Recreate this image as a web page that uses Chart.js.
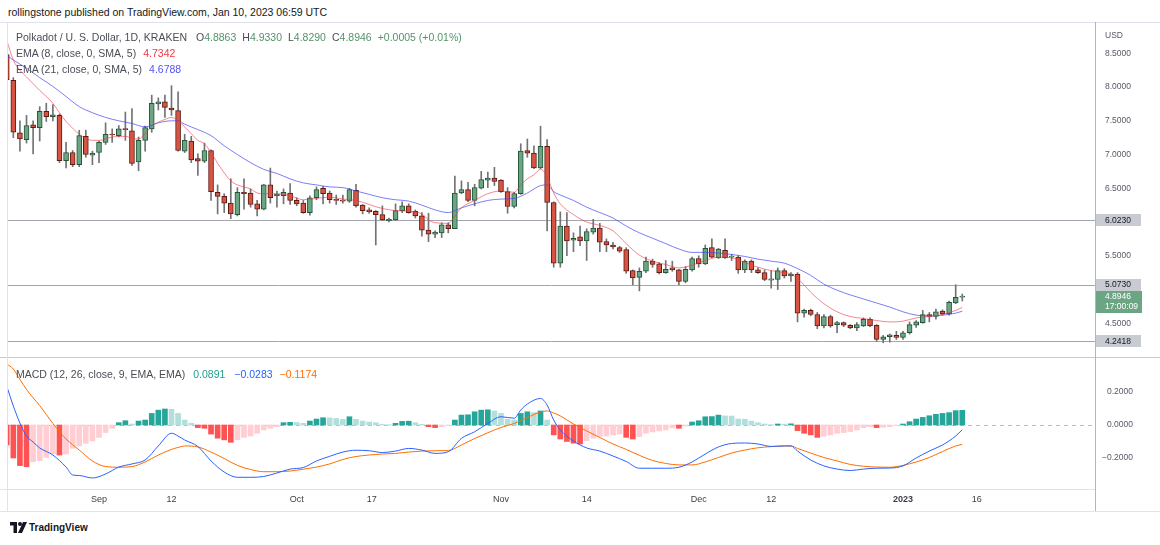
<!DOCTYPE html>
<html>
<head>
<meta charset="utf-8">
<title>Polkadot / U. S. Dollar, 1D, KRAKEN</title>
<script src="https://cdn.jsdelivr.net/npm/chart.js@4.4.1/dist/chart.umd.min.js"></script>
<style>
html,body{margin:0;padding:0;background:#fff;}
body{width:1160px;height:545px;position:relative;overflow:hidden;font-family:"Liberation Sans",Arial,sans-serif;}
.txt{position:absolute;white-space:nowrap;line-height:1;}
.hl{position:absolute;height:1px;}
.vl{position:absolute;width:1px;}
canvas{position:absolute;left:0;}
.g{color:#4a4d55}
.sp{margin-left:6px}
</style>
</head>
<body>
<div class="txt" style="left:8px;top:7px;font-size:10.5px;color:#131722;">rollingstone published on TradingView.com, Jan 10, 2023 06:59 UTC</div>

<canvas id="price" width="1160" height="335" style="top:22px;"></canvas>
<canvas id="macd" width="1160" height="155" style="top:357px;"></canvas>

<div class="hl" style="left:0;top:22px;width:1160px;background:#e0e3eb"></div>
<div class="hl" style="left:0;top:357px;width:1160px;background:#c9cbd1"></div>
<div class="hl" style="left:0;top:489px;width:1095px;background:#e0e3eb"></div>
<div class="hl" style="left:0;top:511px;width:1160px;background:#e0e3eb"></div>
<div class="vl" style="left:7px;top:22px;height:489px;background:#e0e3eb"></div>
<div class="vl" style="left:1095px;top:22px;height:489px;background:#b2b5be"></div>

<div class="txt" style="left:16px;top:31.5px;font-size:10.5px;">
<span class="g">Polkadot / U. S. Dollar, 1D, KRAKEN</span><span style="margin-left:9px" class="g">O</span><span style="color:#53936b">4.8863</span><span class="g sp">H</span><span style="color:#53936b">4.9330</span><span class="g sp">L</span><span style="color:#53936b">4.8290</span><span class="g sp">C</span><span style="color:#53936b">4.8946</span><span class="sp" style="color:#53936b">+0.0005 (+0.01%)</span>
</div>
<div class="txt" style="left:16px;top:48px;font-size:10.5px;"><span class="g">EMA (8, close, 0, SMA, 5)</span><span style="margin-left:7px;color:#f23645">4.7342</span></div>
<div class="txt" style="left:16px;top:64px;font-size:10.5px;"><span class="g">EMA (21, close, 0, SMA, 5)</span><span style="margin-left:7px;color:#5353f2">4.6788</span></div>
<div class="txt" style="left:16px;top:368.5px;font-size:10.5px;"><span class="g">MACD (12, 26, close, 9, EMA, EMA)</span><span style="margin-left:8px;color:#22a08f">0.0891</span><span style="margin-left:9px;color:#2962ff">−0.0283</span><span style="margin-left:7px;color:#ff6d00">−0.1174</span></div>

<svg style="position:absolute;left:10px;top:522px" width="17" height="11" viewBox="0 0 17 11"><path d="M0 0h7v11H3.5V3.5H0z" fill="#131722"/><circle cx="10" cy="2" r="2" fill="#131722"/><path d="M13 0h4l-5 11H8z" fill="#131722"/></svg>
<div class="txt" style="left:29px;top:523px;font-size:10px;font-weight:bold;color:#131722;">TradingView</div>

<script>
// ---- data (day index 0 = 1 Sep 2022; -14 = 18 Aug 2022; 131 = 10 Jan 2023)
const firstDay = -14;
const opens  = [8.48,8.10,7.32,7.22,7.44,7.40,7.64,7.56,7.58,6.91,7.03,6.85,7.27,6.99,7.03,7.18,7.30,7.28,7.38,7.35,6.89,7.21,7.38,7.75,7.78,7.69,7.65,7.05,7.20,6.94,6.90,7.06,6.44,6.38,6.28,6.11,6.44,6.43,6.27,6.19,6.55,6.39,6.39,6.43,6.32,6.28,6.14,6.36,6.50,6.43,6.33,6.32,6.31,6.47,6.25,6.18,6.16,6.11,6.02,6.03,6.17,6.24,6.16,6.09,5.88,5.82,5.84,5.96,5.90,6.43,6.48,6.32,6.50,6.62,6.65,6.62,6.45,6.23,6.42,7.06,7.02,6.80,7.12,6.29,5.39,5.94,5.73,5.78,5.72,5.85,5.91,5.71,5.66,5.62,5.59,5.28,5.18,5.27,5.42,5.38,5.25,5.32,5.29,5.12,5.29,5.46,5.38,5.62,5.47,5.58,5.48,5.48,5.29,5.42,5.29,5.25,5.14,5.15,5.28,5.20,5.23,4.65,4.69,4.63,4.46,4.60,4.48,4.51,4.47,4.43,4.46,4.56,4.47,4.26,4.30,4.32,4.29,4.36,4.47,4.51,4.63,4.60,4.68,4.64,4.80,4.8863];
const highs  = [8.55,8.14,7.50,7.58,7.50,7.71,7.76,7.74,7.60,7.18,7.06,7.36,7.36,7.05,7.20,7.47,7.38,7.43,7.63,7.68,7.26,7.42,7.88,7.84,7.88,8.02,7.93,7.30,7.27,7.01,7.17,7.07,6.55,6.42,6.64,6.51,6.64,6.49,6.32,6.56,6.80,6.46,6.49,6.57,6.36,6.32,6.39,6.52,6.53,6.46,6.40,6.40,6.50,6.56,6.26,6.21,6.17,6.24,6.06,6.27,6.30,6.27,6.18,6.14,6.13,5.87,5.99,5.99,6.68,6.61,6.59,6.56,6.75,6.74,6.81,6.63,6.51,6.44,7.16,7.23,7.13,7.42,7.22,6.30,6.15,6.14,5.84,5.94,5.90,6.04,5.98,5.75,5.70,5.64,5.62,5.29,5.32,5.48,5.45,5.40,5.43,5.42,5.30,5.34,5.48,5.50,5.66,5.75,5.61,5.75,5.52,5.50,5.44,5.44,5.32,5.29,5.28,5.32,5.31,5.25,5.25,4.71,4.71,4.66,4.63,4.62,4.53,4.52,4.48,4.51,4.58,4.58,4.48,4.32,4.34,4.38,4.38,4.52,4.54,4.69,4.66,4.71,4.70,4.83,5.07,4.933];
const lows   = [8.05,7.25,7.05,7.17,7.01,7.20,7.49,7.50,6.88,6.80,6.82,6.82,6.96,6.85,6.88,7.15,7.18,7.26,7.21,6.84,6.76,7.05,7.33,7.66,7.55,7.58,7.05,7.03,6.88,6.69,6.88,6.32,6.12,6.14,6.05,6.09,6.19,6.22,6.09,6.18,6.28,6.22,6.27,6.26,6.24,6.13,6.10,6.33,6.27,6.28,6.26,6.28,6.29,6.22,6.12,6.13,5.66,6.02,6.00,6.02,6.14,6.13,6.06,5.79,5.71,5.77,5.77,5.84,5.90,6.42,6.30,6.24,6.49,6.51,6.54,6.44,6.13,6.21,6.41,6.96,6.79,6.79,5.87,5.33,5.33,5.50,5.56,5.65,5.43,5.82,5.56,5.56,5.60,5.55,5.24,5.07,4.98,5.25,5.33,5.23,5.24,5.27,5.07,5.10,5.27,5.33,5.37,5.47,5.46,5.46,5.43,5.24,5.25,5.25,5.24,5.13,5.02,5.00,5.17,5.12,4.52,4.59,4.61,4.42,4.43,4.44,4.36,4.45,4.42,4.39,4.45,4.45,4.23,4.21,4.22,4.26,4.26,4.34,4.44,4.50,4.52,4.56,4.62,4.62,4.79,4.829];
const closes = [8.11,7.33,7.23,7.43,7.40,7.64,7.56,7.59,6.91,7.03,6.85,7.28,7.00,7.02,7.18,7.30,7.29,7.38,7.37,6.87,7.21,7.40,7.76,7.78,7.70,7.66,7.06,7.21,6.92,6.90,7.06,6.45,6.38,6.28,6.12,6.44,6.42,6.26,6.19,6.55,6.36,6.41,6.44,6.32,6.27,6.14,6.36,6.48,6.42,6.33,6.32,6.31,6.48,6.24,6.17,6.15,6.11,6.03,6.04,6.17,6.24,6.14,6.09,5.88,5.82,5.85,5.96,5.90,6.43,6.48,6.32,6.51,6.63,6.65,6.60,6.45,6.23,6.42,7.05,7.02,6.80,7.12,6.29,5.39,5.94,5.72,5.76,5.72,5.86,5.91,5.70,5.66,5.63,5.57,5.27,5.17,5.27,5.42,5.37,5.25,5.30,5.29,5.12,5.30,5.46,5.38,5.61,5.48,5.60,5.47,5.49,5.29,5.42,5.29,5.25,5.15,5.16,5.28,5.20,5.23,4.65,4.69,4.63,4.46,4.60,4.46,4.51,4.47,4.43,4.48,4.56,4.46,4.26,4.30,4.33,4.29,4.36,4.48,4.52,4.63,4.60,4.67,4.64,4.81,4.886,4.8946];

const ema8Days  = [-14,-13,-12,-11,-10,-9,-8,-7,-6,-5,-4,-3,-2,-1,0,2,4,5,6,7,8,9,10,11,12,13,14,15,16,17,18,19,20,21,22,23,24,25,27,29,31,33,35,37,39,41,43,45,47,49,50,51,53,54,55,57,59,61,63,64,65,66,67,68,69,70,72,74,76,78,80,82,84,86,88,90,92,94,96,98,100,102,104,105,106,107,108,109,110,112,114,116,118,120,122,124,126,128,130,131];
const ema8Vals  = [8.69,8.40,8.25,8.15,8.05,7.95,7.86,7.76,7.62,7.49,7.39,7.30,7.24,7.21,7.21,7.26,7.27,7.24,7.23,7.31,7.42,7.48,7.52,7.55,7.50,7.41,7.31,7.21,7.16,7.03,6.87,6.73,6.61,6.55,6.52,6.49,6.43,6.42,6.42,6.39,6.33,6.35,6.37,6.34,6.32,6.26,6.20,6.17,6.16,6.12,6.03,5.99,5.98,6.09,6.21,6.32,6.42,6.46,6.44,6.55,6.64,6.70,6.78,6.67,6.43,6.27,6.11,6.00,5.95,5.87,5.68,5.51,5.42,5.37,5.32,5.36,5.43,5.48,5.47,5.40,5.33,5.28,5.25,5.23,5.16,5.07,4.96,4.87,4.79,4.67,4.60,4.57,4.54,4.52,4.53,4.58,4.60,4.63,4.69,4.7342];
const ema21Days = [-14,-13,-11,-9,-7,-5,-3,-1,1,3,5,7,9,11,12,13,15,17,19,21,23,25,27,29,31,33,35,37,39,41,43,45,47,49,51,53,55,57,59,61,63,65,67,68,69,70,72,74,76,78,80,82,84,86,88,90,92,94,96,98,100,102,104,106,108,110,112,114,116,118,120,122,124,126,128,130,131];
const ema21Vals = [8.47,8.40,8.28,8.14,8.01,7.86,7.71,7.62,7.55,7.50,7.46,7.41,7.47,7.50,7.50,7.45,7.37,7.28,7.13,7.00,6.88,6.78,6.72,6.64,6.58,6.55,6.52,6.51,6.46,6.41,6.36,6.33,6.31,6.25,6.18,6.14,6.21,6.27,6.32,6.34,6.35,6.43,6.54,6.55,6.45,6.40,6.32,6.22,6.14,6.06,5.94,5.84,5.76,5.68,5.60,5.55,5.55,5.54,5.52,5.49,5.45,5.42,5.39,5.31,5.21,5.08,4.99,4.92,4.86,4.80,4.74,4.67,4.62,4.61,4.62,4.65,4.6788];

const histVals = [-0.121,-0.20,-0.246,-0.253,-0.222,-0.216,-0.196,-0.175,-0.182,-0.176,-0.141,-0.127,-0.111,-0.097,-0.075,-0.046,-0.02,0.014,0.026,0.006,0.024,0.03,0.07,0.09,0.097,0.095,0.07,0.03,0.01,-0.016,-0.02,-0.055,-0.08,-0.09,-0.105,-0.09,-0.075,-0.067,-0.05,-0.03,-0.02,-0.01,0.014,0.016,0.015,0.01,0.024,0.036,0.044,0.043,0.04,0.034,0.05,0.034,0.024,0.018,0.014,0.004,0.002,0.01,0.022,0.023,0.014,0.004,-0.01,-0.016,-0.01,-0.004,0.03,0.06,0.062,0.08,0.09,0.092,0.085,0.07,0.034,0.03,0.07,0.08,0.075,0.085,0.03,-0.06,-0.085,-0.10,-0.11,-0.115,-0.095,-0.08,-0.07,-0.067,-0.06,-0.055,-0.075,-0.085,-0.07,-0.05,-0.042,-0.036,-0.03,-0.018,-0.02,-0.006,0.018,0.026,0.05,0.051,0.06,0.055,0.054,0.036,0.035,0.024,0.014,0.006,0.002,0.006,0.005,0.007,-0.034,-0.05,-0.06,-0.075,-0.067,-0.06,-0.05,-0.046,-0.04,-0.03,-0.016,-0.01,-0.016,-0.014,-0.01,-0.004,0.006,0.02,0.036,0.046,0.056,0.065,0.07,0.075,0.087,0.0891];

const macdDays   = [-14,-13,-12,-11,-10,-9,-7,-5,-4,-3,-1,1,3,5,7,9,11,12,13,15,17,19,21,23,25,27,29,31,33,35,37,39,41,43,45,47,49,51,53,55,57,59,61,63,64,65,67,68,69,70,72,74,76,78,80,82,84,86,88,90,92,94,96,98,100,102,104,105,106,108,110,112,114,116,118,120,122,124,126,128,130,131];
const macdVals   = [0.235,0.115,0.012,-0.067,-0.103,-0.139,-0.182,-0.255,-0.303,-0.306,-0.321,-0.297,-0.255,-0.236,-0.212,-0.127,-0.05,-0.067,-0.091,-0.13,-0.218,-0.285,-0.317,-0.317,-0.312,-0.291,-0.267,-0.258,-0.218,-0.19,-0.164,-0.153,-0.156,-0.167,-0.158,-0.142,-0.152,-0.172,-0.162,-0.081,-0.041,0.009,0.05,0.041,0.091,0.127,0.161,0.121,0.03,-0.03,-0.097,-0.139,-0.158,-0.188,-0.221,-0.262,-0.262,-0.262,-0.256,-0.224,-0.176,-0.133,-0.112,-0.109,-0.115,-0.13,-0.127,-0.127,-0.158,-0.212,-0.248,-0.267,-0.276,-0.267,-0.262,-0.261,-0.248,-0.2,-0.158,-0.121,-0.067,-0.0283];
const signalVals = [0.37,0.339,0.276,0.215,0.165,0.118,0.009,-0.085,-0.12,-0.152,-0.218,-0.252,-0.256,-0.252,-0.224,-0.182,-0.148,-0.136,-0.127,-0.133,-0.164,-0.203,-0.245,-0.27,-0.283,-0.283,-0.279,-0.268,-0.255,-0.236,-0.209,-0.191,-0.182,-0.176,-0.172,-0.164,-0.158,-0.156,-0.155,-0.121,-0.082,-0.047,-0.015,0.009,0.027,0.045,0.079,0.085,0.073,0.055,0.006,-0.036,-0.076,-0.115,-0.148,-0.184,-0.215,-0.233,-0.242,-0.242,-0.224,-0.197,-0.17,-0.152,-0.138,-0.131,-0.127,-0.127,-0.142,-0.17,-0.197,-0.218,-0.239,-0.25,-0.255,-0.256,-0.245,-0.224,-0.197,-0.161,-0.127,-0.1174];

const levelLines  = [6.0230, 5.0730, 4.2418];
const lastPrice   = 4.8946;
const lastCountdown = '17:00:09';
const priceTicks  = [4.5, 5.5, 6.5, 7.0, 7.5, 8.0, 8.5];
const macdTicks   = [-0.2, 0, 0.2];
const xTickDays   = [0, 11, 30, 41.4, 61, 74, 91, 102, 122, 133.2];
const xTickLabels = ['Sep','12','Oct','17','Nov','14','Dec','12','2023','16'];

// ---- styling
const F = '"Liberation Sans", Arial, sans-serif';
const UP = '#6ba583', DOWN = '#d75442', UPB = '#225437', DOWNB = '#5b1a13', WICK = '#737375';
const X_MIN = -13.81, X_MAX = 151.14;
const days = opens.map((_, i) => firstDay + i);

const pricePlugin = {
  id: 'pricePlugin',
  beforeDatasetsDraw(chart) {
    const {ctx, chartArea: a, scales: {y}} = chart;
    ctx.save();
    ctx.strokeStyle = '#a3a6af'; ctx.lineWidth = 1;
    levelLines.forEach(v => {
      const py = Math.round(y.getPixelForValue(v)) + 0.5;
      ctx.beginPath(); ctx.moveTo(a.left, py); ctx.lineTo(a.right, py); ctx.stroke();
    });
    ctx.restore();
  },
  afterDraw(chart) {
    const {ctx, chartArea: a, scales: {y}} = chart;
    ctx.save();
    ctx.font = '8.5px ' + F;
    ctx.textBaseline = 'middle';
    ctx.fillStyle = '#555a64';
    ctx.fillText('USD', a.right + 10, 14);
    levelLines.forEach(v => {
      const py = y.getPixelForValue(v);
      ctx.fillStyle = '#c9cbd2';
      ctx.fillRect(a.right, Math.round(py) - 6, 46, 12);
      ctx.fillStyle = '#131722';
      ctx.fillText(v.toFixed(4), a.right + 10, py + 0.5);
    });
    const lp = y.getPixelForValue(lastPrice);
    ctx.fillStyle = UP;
    ctx.fillRect(a.right, Math.round(lp) - 6, 47, 22);
    ctx.fillStyle = '#ffffff';
    ctx.fillText(lastPrice.toFixed(4), a.right + 10, lp + 0.5);
    ctx.fillText(lastCountdown, a.right + 10, lp + 10.5);
    ctx.restore();
  }
};

const macdPlugin = {
  id: 'macdPlugin',
  beforeDatasetsDraw(chart) {
    const {ctx, chartArea: a, scales: {y}} = chart;
    const py = Math.round(y.getPixelForValue(0)) + 0.5;
    ctx.save();
    ctx.strokeStyle = '#b8bbc3'; ctx.lineWidth = 1; ctx.setLineDash([4, 4]);
    ctx.beginPath(); ctx.moveTo(a.left, py); ctx.lineTo(a.right, py); ctx.stroke();
    ctx.restore();
  }
};

const base = {
  responsive: false, animation: false, devicePixelRatio: 1,
  plugins: { legend: { display: false }, tooltip: { enabled: false } },
};

new Chart(document.getElementById('price'), {
  type: 'bar',
  data: {
    datasets: [
      { type: 'line', data: ema8Days.map((d, i) => ({x: d, y: ema8Vals[i]})), borderColor: 'rgba(242,54,69,0.6)', borderWidth: 1, pointRadius: 0, cubicInterpolationMode: 'monotone', order: 0 },
      { type: 'line', data: ema21Days.map((d, i) => ({x: d, y: ema21Vals[i]})), borderColor: 'rgba(70,70,245,0.7)', borderWidth: 1, pointRadius: 0, cubicInterpolationMode: 'monotone', order: 1 },
      { data: days.map((d, i) => ({x: d, y: [opens[i], closes[i]]})),
        backgroundColor: c => closes[c.dataIndex] >= opens[c.dataIndex] ? UP : DOWN,
        borderColor: c => closes[c.dataIndex] >= opens[c.dataIndex] ? UPB : DOWNB,
        borderWidth: 1, borderSkipped: false, barThickness: 5, minBarLength: 1, grouped: false, order: 2 },
      { data: days.map((d, i) => ({x: d, y: [lows[i], highs[i]]})), backgroundColor: WICK, barThickness: 1, grouped: false, order: 3 }
    ]
  },
  options: Object.assign({}, base, {
    layout: { padding: { left: 8, right: 0, top: 0, bottom: 0 } },
    scales: {
      x: { type: 'linear', min: X_MIN, max: X_MAX, display: false, offset: false, bounds: 'data' },
      y: { position: 'right', min: 4.0, max: 8.964, bounds: 'data',
           grid: { display: false, drawTicks: false }, border: { display: false },
           afterBuildTicks: s => { s.ticks = priceTicks.map(v => ({value: v})); },
           afterFit: s => { s.width = 65; s.paddingTop = 0; s.paddingBottom = 0; },
           ticks: { padding: 10, color: '#555a64', font: { size: 8.5, family: F }, callback: v => Number(v).toFixed(4) } }
    }
  }),
  plugins: [pricePlugin]
});

const histColor = c => {
  const i = c.dataIndex, v = histVals[i], p = i > 0 ? histVals[i - 1] : 0;
  if (v >= 0) return v >= p ? '#26a69a' : '#b2dfdb';
  return v < p ? '#ff5252' : '#ffcdd2';
};

new Chart(document.getElementById('macd'), {
  type: 'bar',
  data: {
    datasets: [
      { type: 'line', data: macdDays.map((d, i) => ({x: d, y: macdVals[i]})), borderColor: '#2962ff', borderWidth: 1, pointRadius: 0, cubicInterpolationMode: 'monotone', order: 0 },
      { type: 'line', data: macdDays.map((d, i) => ({x: d, y: signalVals[i]})), borderColor: '#ff6d00', borderWidth: 1, pointRadius: 0, cubicInterpolationMode: 'monotone', order: 1 },
      { data: days.map((d, i) => ({x: d, y: histVals[i]})), backgroundColor: histColor, barThickness: 5, grouped: false, order: 2 }
    ]
  },
  options: Object.assign({}, base, {
    layout: { padding: { left: 8, right: 27, top: 0, bottom: 0 } },
    scales: {
      x: { type: 'linear', min: X_MIN, max: X_MAX, offset: false, bounds: 'data',
           grid: { display: false, drawTicks: false }, border: { display: false },
           afterBuildTicks: s => { s.ticks = xTickDays.map(v => ({value: v})); },
           afterFit: s => { s.height = 23; s.paddingLeft = 0; s.paddingRight = 0; },
           ticks: { autoSkip: false, maxRotation: 0, padding: 5, color: '#3b3e46',
                    font: c => ({ size: 9, family: F, weight: (c.tick && c.tick.label === '2023') ? 'bold' : 'normal' }),
                    callback: (v, i) => xTickLabels[i] } },
      y: { position: 'right', min: -0.3879, max: 0.4121, bounds: 'data',
           grid: { display: false, drawTicks: false }, border: { display: false },
           afterBuildTicks: s => { s.ticks = macdTicks.map(v => ({value: v})); },
           afterFit: s => { s.width = 38; s.paddingTop = 0; s.paddingBottom = 0; },
           ticks: { padding: 4, crossAlign: 'far', color: '#555a64', font: { size: 8.5, family: F }, callback: v => Number(v).toFixed(4).replace('-', '−') } }
    }
  }),
  plugins: [macdPlugin]
});
</script>
</body>
</html>
